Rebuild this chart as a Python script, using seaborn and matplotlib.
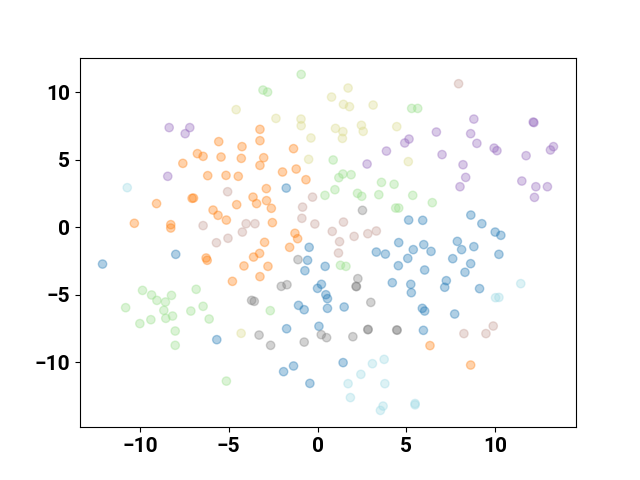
import numpy as np
import pandas as pd
import seaborn as sns
import matplotlib
matplotlib.use("Agg")
import matplotlib.pyplot as plt

# embedding coordinates per cluster
blue_x = [8.63, 9.25, 10.0, 10.32, 7.87, 8.11, 8.80, 10.21, 7.61, 8.62, 8.30, 9.12, 7.72,
          -7.98, -12.1, -1.07, -0.75, 0.56, -5.67, -1.74, 0.08, -1.91, -1.35, -0.43,
          1.5, 5.9, 6.03, 5.96, 1.44, -1.76, -0.47, -0.56, -0.71, 0.43, 0.0, 0.22, 0.47, 0.56,
          5.13, 5.92, 4.57, 5.98, 5.39, 6.39, 3.31, 3.82, 5.08, 4.55, 6.03, 4.21, 5.25, 5.28, 7.25, 7.16]
blue_y = [0.91, 0.27, -0.35, -0.59, -1.04, -1.65, -1.43, -2.0, -2.32, -2.69, -3.33, -4.54, -6.42,
          -2.0, -2.72, -5.78, -6.1, -6.0, -8.32, -7.51, -7.33, -10.69, -10.27, -11.56,
          -5.9, -6.0, -6.2, -7.63, -10.02, 2.91, -1.48, -2.44, -3.21, -2.89, -4.52, -4.22, -4.99, -5.28,
          0.54, 0.52, -1.13, -1.28, -1.65, -1.78, -1.83, -1.98, -2.30, -2.84, -3.16, -4.10, -4.22, -4.84, -3.95, -4.44]

orange_x = [-6.76, -6.44, -7.58, -6.18, -3.24, -3.24, -5.56, -4.25, -1.35, -5.43, -4.29, -3.03, -3.24,
            -1.97, -1.2, -0.65, -5.15, -4.46, -9.06, -7.06, -6.98, -10.31, -8.26, -8.26, -6.27, -6.21,
            -2.88, -3.63, -3.43, -2.87, -2.6, -4.55, -5.88, -5.6, -5.13, -2.54, -2.98, -1.27, -1.12,
            -1.57, -3.26, -3.6, -4.14, -2.79, -3.24, -4.79, 6.33, 8.62]
orange_y = [5.46, 5.26, 4.74, 3.83, 7.26, 6.42, 6.35, 5.98, 5.83, 5.21, 5.11, 5.16, 4.59,
            4.10, 4.32, 3.53, 3.85, 3.78, 1.76, 2.15, 2.17, 0.30, 0.2, -0.05, -2.27, -2.44,
            2.87, 2.24, 1.76, 1.98, 1.41, 1.68, 1.28, 0.89, 0.54, 0.35, -1.11, -0.44, -0.84,
            -1.48, -1.93, -2.2, -2.86, -2.89, -3.65, -4.0, -8.76, -10.2]

green_x = [-0.92, -3.07, -2.81, 0.88, 5.30, 5.64, 1.43, 1.89, 1.20, 3.60, 4.31,
           -9.85, -9.34, -9.04, -8.56, -8.22, -6.83, -10.8, -6.44, -8.65, -8.54, -8.16, -10.0,
           -9.38, -7.13, -6.10, -8.01, -8.01, -2.66, -5.13,
           0.42, 0.98, 2.25, 2.49, 3.45, 5.36, 6.46, 4.4, 4.57, 1.29, 1.6]
green_y = [11.33, 10.17, 10.02, 4.99, 8.81, 8.81, 3.95, 3.90, 3.68, 3.33, 3.19,
           -4.67, -5.01, -5.41, -5.53, -5.04, -4.59, -5.95, -5.85, -6.15, -6.74, -6.57, -7.13,
           -6.84, -6.2, -6.79, -7.68, -8.74, -6.17, -11.39,
           2.37, 2.79, 2.52, 2.30, 2.42, 2.37, 1.83, 1.43, 1.43, -2.81, -2.89]

purple_x = [-8.35, -7.19, -7.45, -8.43, 6.69, 5.15, 4.91, 3.88, 7.01, 2.79,
            8.80, 12.14, 12.18, 8.62, 8.97, 9.94, 10.10, 13.28, 13.11, 11.74, 8.19, 8.34,
            11.5, 8.02, 12.29, 12.94, 12.21]
purple_y = [7.39, 7.39, 6.94, 3.78, 7.06, 6.54, 6.25, 5.65, 5.39, 4.69,
            8.02, 7.8, 7.76, 6.94, 6.22, 5.87, 5.68, 5.98, 5.73, 5.31, 4.64, 3.70,
            3.43, 3.01, 3.01, 3.01, 2.22]

brown_x = [7.94, 9.48, 8.24, 9.89, -6.44, -5.06, -0.28, -0.84, -0.88, -0.15, 0.83, -4.02, -3.52,
           -4.23, -5.04, -5.69, 1.46, 2.06, 2.83, 3.31, 1.24, 1.18]
brown_y = [10.64, -7.87, -7.87, -7.31, 0.13, 2.64, 2.24, 1.50, 0.67, 0.25, -0.30, 0.27, 0.27,
           -0.35, -0.81, -1.14, 0.39, -0.67, -0.47, -0.27, -1.06, -1.90]

gray_x = [-3.71, -3.56, -3.29, -2.64, 0.21, 0.51, -0.75, 3.0, 1.99, 2.85, 2.83, 4.46, 4.48,
          -1.1, -2.04, -1.72, 2.53, 2.27, 2.17, 2.19]
gray_y = [-5.41, -5.48, -7.98, -8.74, -7.95, -8.17, -8.5, -5.56, -8.1, -7.56, -7.58, -7.6, -7.62,
          -2.39, -4.37, -4.25, 1.26, -3.80, -4.37, -4.39]

olive_x = [0.79, -4.58, -2.34, -0.93, -0.92, -0.37, -0.5, 1.72, 1.46, 1.80, 3.13, 1.01, 1.43,
           1.40, 2.47, 2.57, 4.46, 5.11, -4.30]
olive_y = [9.65, 8.72, 8.07, 8.02, 7.53, 6.62, 5.04, 10.32, 9.11, 8.94, 9.06, 7.33, 7.09,
           6.59, 7.56, 7.11, 7.46, 4.87, -7.85]

cyan_x = [-10.71, 11.44, 10.02, 10.21, 3.09, 3.75, 2.44, 1.72, 3.79, 1.85, 3.69, 3.54, 5.49, 5.49]
cyan_y = [2.94, -4.17, -5.21, -5.19, -10.1, -9.78, -10.89, -11.58, -11.58, -12.61, -13.24, -13.56, -13.05, -13.15]

groups = [(blue_x, blue_y), (orange_x, orange_y), (green_x, green_y), (purple_x, purple_y),
          (brown_x, brown_y), (gray_x, gray_y), (olive_x, olive_y), (cyan_x, cyan_y)]

rows = []
for label, (xs, ys) in enumerate(groups):
    for x, y in zip(xs, ys):
        rows.append((x, y, label))
df = pd.DataFrame(rows, columns=["x", "y", "label"])

# 8 labels spread over tab20, same as c=labels with cmap='tab20'
tab20 = plt.get_cmap("tab20")
palette = [tab20(int(i / 7 * 20) if i < 7 else 19) for i in range(8)]

plt.rcParams["font.family"] = ["Roboto", "DejaVu Sans"]
plt.rcParams["font.weight"] = "bold"

fig, ax = plt.subplots(figsize=(6.4, 4.8), dpi=100)
sns.scatterplot(data=df, x="x", y="y", hue="label", palette=palette, legend=False,
                s=36, alpha=0.35, edgecolor="face", linewidth=1.0, ax=ax)
ax.set_xlabel("")
ax.set_ylabel("")
ax.tick_params(labelsize=15)
for t in ax.get_xticklabels() + ax.get_yticklabels():
    t.set_fontweight("bold")

plt.savefig("out.png", dpi=100)
plt.close()
